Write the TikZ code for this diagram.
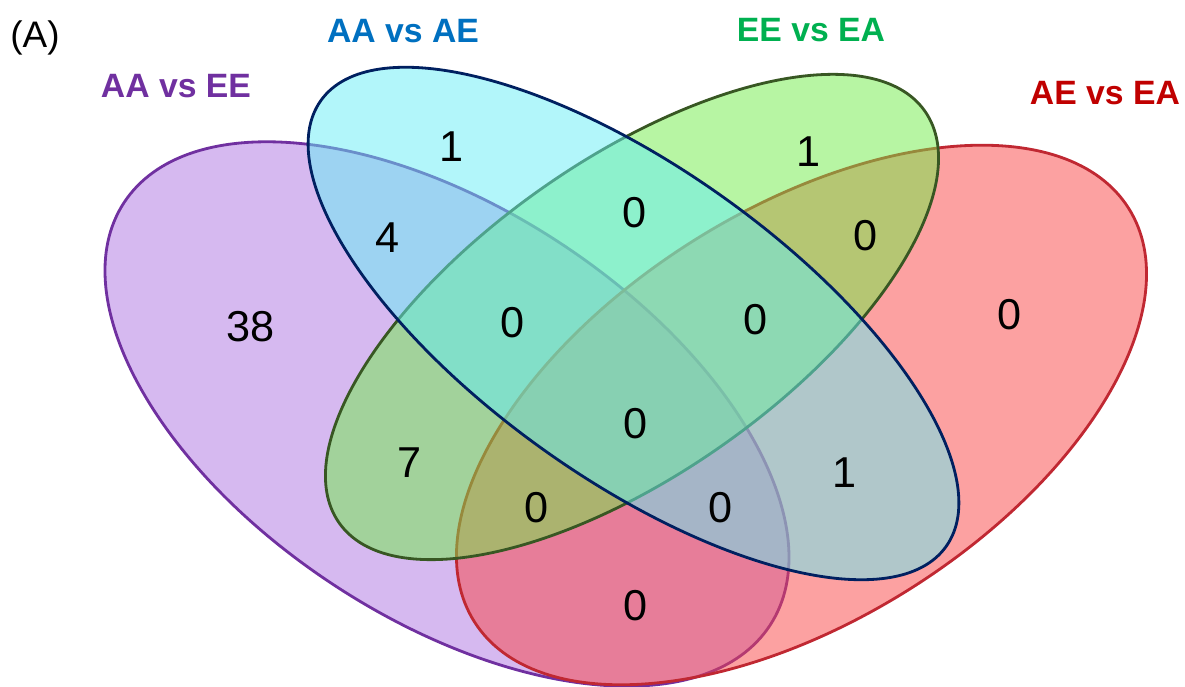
\documentclass[tikz,border=0pt]{standalone}
\usepackage{fontspec}
\setmainfont{Liberation Sans}
\usetikzlibrary{positioning}
\definecolor{aaeeline}{RGB}{112,48,160}
\definecolor{aaeefill}{RGB}{173,115,225}
\definecolor{aaaeline}{RGB}{0,32,96}
\definecolor{aaaefill}{RGB}{101,237,245}
\definecolor{eeealine}{RGB}{56,87,35}
\definecolor{eeeafill}{RGB}{111,235,71}
\definecolor{aeealine}{RGB}{192,40,50}
\definecolor{aeeafill}{RGB}{249,67,67}
\definecolor{aaaetext}{RGB}{0,112,192}
\definecolor{eeeatext}{RGB}{0,176,80}
\definecolor{aeeatext}{RGB}{192,0,0}

\begin{document}
\begin{tikzpicture}[setshape/.style={line width=0.8pt, fill opacity=0.5},
    count/.style={font=\fontsize{12.3}{14}\selectfont},
    settitle/.style={font=\fontsize{9.6}{11}\selectfont\bfseries}]
    \useasboundingbox (0,0) rectangle (11.85,6.87);

    \draw[setshape, draw=aaeeline, fill=aaeefill, rotate around={-33.2:(4.47,2.73)}] (4.47,2.73) ellipse (3.86 and 2.05);
    \draw[setshape, draw=aeealine, fill=aeeafill, rotate around={32.3:(8.015,2.72)}] (8.015,2.72) ellipse (3.87 and 2.05);
    \draw[setshape, draw=eeealine, fill=eeeafill, rotate around={35.1:(6.32,3.70)}] (6.32,3.70) ellipse (3.58 and 1.57);
    \draw[setshape, draw=aaaeline, fill=aaaefill, rotate around={-35.5:(6.335,3.635)}] (6.335,3.635) ellipse (3.84 and 1.55);

    \node at (0.35,6.49) [font=\fontsize{10.5}{12}\selectfont] (panel) {(A)};
    \node at (1.76,6.01) [settitle, text=aaeeline] (aaee) {AA vs EE};
    \node at (4.03,6.56) [settitle, text=aaaetext] (aaae) {AA vs AE};
    \node at (8.11,6.57) [settitle, text=eeeatext] (eeea) {EE vs EA};
    \node at (11.05,5.94) [settitle, text=aeeatext] (aeea) {AE vs EA};

    \node at (2.51,3.60) [count] (onlyaaee) {38};
    \node at (4.52,5.40) [count] (onlyaaae) {1};
    \node at (8.09,5.35) [count] (onlyeeea) {1};
    \node at (10.10,3.72) [count] (onlyaeea) {0};
    \node at (3.88,4.49) [count] (aaeeaaae) {4};
    \node at (6.35,4.74) [count] (aaaeeeea) {0};
    \node at (8.66,4.51) [count] (eeeaaeea) {0};
    \node at (5.13,3.64) [count] (aaeeaaaeeeea) {0};
    \node at (7.56,3.67) [count] (aaaeeeeaaeea) {0};
    \node at (6.36,2.63) [count] (allfour) {0};
    \node at (4.10,2.24) [count] (aaeeeeea) {7};
    \node at (5.37,1.79) [count] (aaeeeeeaaeea) {0};
    \node at (7.21,1.79) [count] (aaeeaaaeaeea) {0};
    \node at (8.45,2.14) [count] (aaaeaeea) {1};
    \node at (6.36,0.81) [count] (aaeeaeea) {0};
\end{tikzpicture}
\end{document}
